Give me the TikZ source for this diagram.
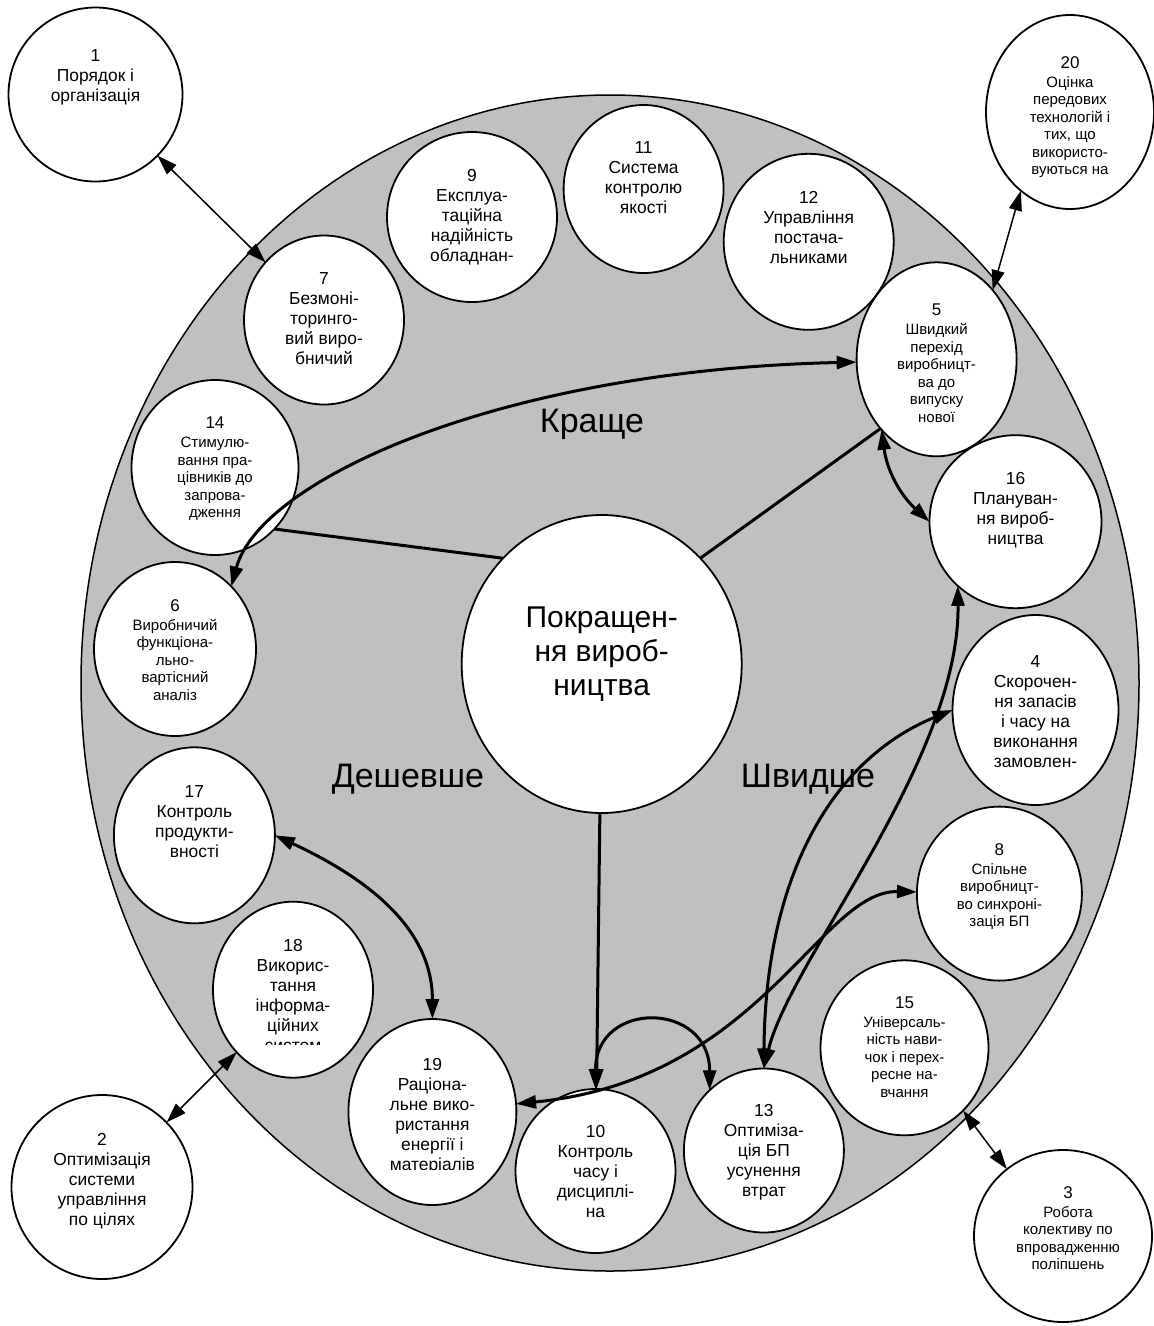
\documentclass[tikz,border=0pt]{standalone}
\usepackage{fontspec}
\setmainfont{Liberation Sans}
\usetikzlibrary{shapes.geometric, positioning, arrows.meta}
\definecolor{ringgray}{RGB}{192,192,192}
\newcommand{\numsz}{\fontsize{17}{20}\selectfont}

\tikzset{
  ringbox/.style={ellipse, draw, fill=ringgray, line width=1.5pt, inner sep=0pt, outer sep=0pt,
    minimum width=1058pt, minimum height=1176pt},
  bub/.style 2 args={ellipse, draw, fill=white, line width=1.8pt, inner sep=0pt, outer sep=0pt,
    minimum width=#1, minimum height=#2},
  lbl/.style={align=center, inner sep=0pt, font=\fontsize{17.4}{20}\selectfont},
  lbls/.style={align=center, inner sep=0pt, font=\fontsize{15}{17.5}\selectfont},
  side/.style={inner sep=0pt, anchor=base, font=\fontsize{34}{40}\selectfont},
  light/.style={line width=1.5pt},
  heavy/.style={line width=3pt}
}

\begin{document}
\begin{tikzpicture}[x=1pt, y=1pt, >={Triangle[length=20pt, width=13pt]}]
    \useasboundingbox (0,0) rectangle (1154,-1326);
    \node[ringbox] (ring) at (610,-683) {};

    \node[bub={280pt}{298pt}] (c0) at (601.7,-664) {};
    \node[align=center, inner sep=0pt, font=\fontsize{30}{34}\selectfont, below=92pt of c0.north] (t0)
    {Покращен-\\ня вироб-\\ництва};

    \node[side] (kr) at (592,-432) {Краще};
    \node[side] (de) at (408,-787) {Дешевше};
    \node[side] (sh) at (808,-787) {Швидше};

    \node[bub={174pt}{174pt}] (c1) at (95.5,-94.5) {};
    \node[bub={181pt}{184pt}] (c2) at (102,-1187) {};
    \node[bub={178pt}{172pt}] (c3) at (1063,-1236) {};
    \node[bub={166pt}{190pt}] (c4) at (1035.5,-710) {};
    \node[bub={172pt}{173pt}] (c16) at (1015.5,-521.7) {};
    \node[bub={170pt}{176pt}] (c12) at (808.7,-241.8) {};
    \node[bub={160pt}{194pt}] (c5) at (936.6,-359.3) {};
    \node[bub={162pt}{174pt}] (c6) at (175,-649) {};
    \node[bub={160pt}{169pt}] (c7) at (324,-320) {};
    \node[bub={165pt}{174pt}] (c8) at (999.4,-893.6) {};
    \node[bub={170pt}{170pt}] (c9) at (472,-217) {};
    \node[bub={160pt}{164pt}] (c10) at (595.5,-1171) {};
    \node[bub={160pt}{168pt}] (c11) at (643.6,-189) {};
    \node[bub={168pt}{175pt}] (c15) at (904.5,-1047.8) {};
    \node[bub={160pt}{164pt}] (c13) at (763.9,-1150.5) {};
    \node[bub={167pt}{175pt}] (c14) at (215,-467.5) {};
    \node[bub={161pt}{176pt}] (c17) at (194.4,-835.3) {};
    \node[bub={160pt}{176pt}] (c18) at (293,-989.7) {};
    \node[bub={168pt}{186pt}] (c19) at (432.4,-1112) {};
    \node[bub={168pt}{194pt}] (c20) at (1070,-112) {};

    \node[lbl, below=42pt of c1.north] (t1) {1\\Порядок і\\організація};
    \node[lbl, below=38.5pt of c2.north] (t2) {2\\Оптимізація\\системи\\управління\\по цілях};
    \node[lbls, below=36pt of c3.north, xshift=5pt] (t3)
    {{\numsz 3}\\[1.5pt]Робота\\колективу по\\впровадженню\\поліпшень};
    \node[lbl, below=40.5pt of c4.north] (t4) {4\\Скорочен-\\ня запасів\\і часу на\\виконання\\замовлен-};
    \node[lbls, below=41.5pt of c5.north] (t5)
    {{\numsz 5}\\[1.5pt]Швидкий\\перехід\\виробницт-\\ва до\\випуску\\нової};
    \node[lbls, below=37pt of c6.north] (t6)
    {{\numsz 6}\\[1.5pt]Виробничий\\функціона-\\льно-\\вартісний\\аналіз};
    \node[lbl, below=37pt of c7.north] (t7) {7\\Безмоні-\\торинго-\\вий виро-\\бничий};
    \node[lbls, below=36.5pt of c8.north] (t8)
    {{\numsz 8}\\[1.5pt]Спільне\\виробницт-\\во синхроні-\\зація БП};
    \node[lbl, below=37pt of c9.north] (t9) {9\\Експлуа-\\таційна\\надійність\\обладнан-};
    \node[lbl, below=36.5pt of c10.north] (t10) {10\\Контроль\\часу і\\дисциплі-\\на};
    \node[lbl, below=36pt of c11.north] (t11) {11\\Система\\контролю\\якості};
    \node[lbl, below=37pt of c12.north] (t12) {12\\Управління\\постача-\\льниками};
    \node[lbl, below=36pt of c13.north] (t13) {13\\Оптиміза-\\ція БП\\усунення\\втрат};
    \node[lbls, below=37pt of c14.north] (t14)
    {{\numsz 14}\\[1.5pt]Стимулю-\\вання пра-\\цівників до\\запрова-\\дження};
    \node[lbls, below=36pt of c15.north] (t15)
    {{\numsz 15}\\[1.5pt]Універсаль-\\ність нави-\\чок і перех-\\ресне на-\\вчання};
    \node[lbl, below=37pt of c16.north] (t16) {16\\Плануван-\\ня вироб-\\ництва};
    \node[lbl, below=38pt of c17.north] (t17) {17\\Контроль\\продукти-\\вності};
    \begin{scope}
      \clip (200,-900) rectangle (390,-1044.6);
      \node[lbl, below=37pt of c18.north] (t18) {18\\Викорис-\\тання\\інформа-\\ційних\\систем};
    \end{scope}
    \begin{scope}
      \clip (340,-1015) rectangle (520,-1169.5);
      \node[lbl, below=39.5pt of c19.north] (t19) {19\\Раціона-\\льне вико-\\ристання\\енергії і\\матеріалів};
    \end{scope}
    \node[lbls, below=41pt of c20.north] (t20)
    {{\numsz 20}\\[1.5pt]Оцінка\\передових\\технологій і\\тих, що\\використо-\\вуються на};

    \draw[light, <->] (c1) -- (c7);
    \draw[light, <->] (c20.238) -- (c5.51);
    \draw[light, <->] (c18.228) -- (c2.45);
    \draw[light, <->] (c15.-47) -- (c3.130);

    \draw[heavy] (c0.133) -- (c14.-46);
    \draw[heavy] (c0.47) -- (c5.231);
    \draw[heavy, ->] (c0) -- (c10);

    \draw[heavy, <->] (c6.48) .. controls (260,-480) and (500,-370) .. (c5.182);
    \draw[heavy, <->] (c5.232) to[bend right=20] (c16.180);
    \draw[heavy, <->] (c13.north) .. controls (790,-960) and (960,-760) .. (c16.228);
    \draw[heavy, <->] (c13.north) .. controls (765,-880) and (830,-760) .. (c4.west);
    \draw[heavy, <->] (c10.north) to[out=90, in=90, looseness=2] (c13.132);
    \draw[heavy, <->] (c19) .. controls (760,-1080) and (820,-890) .. (c8);
    \draw[heavy, <->] (c17.east) to[out=-25, in=90] (c19.north);
\end{tikzpicture}
\end{document}
